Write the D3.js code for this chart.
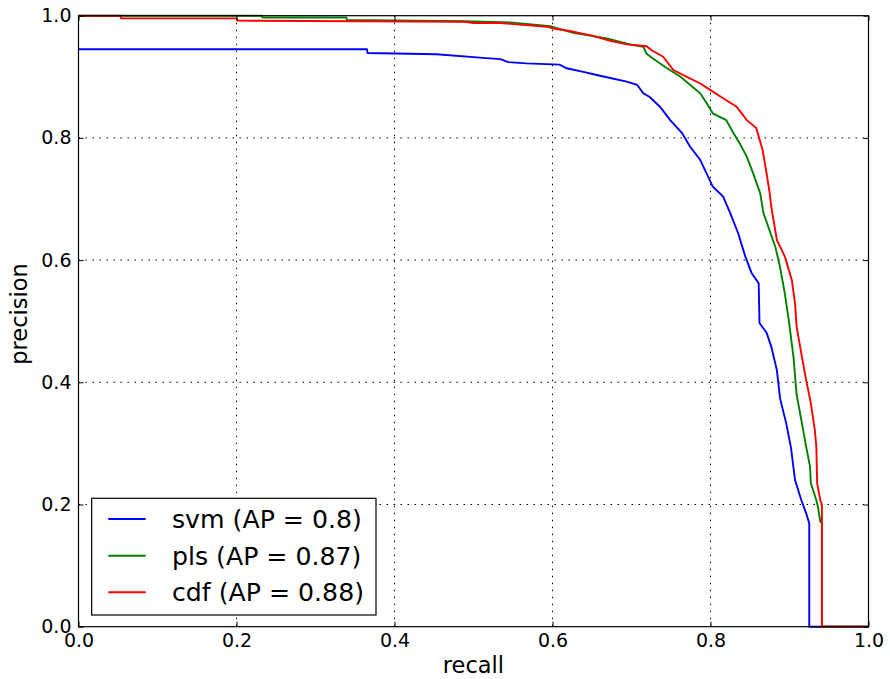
<!DOCTYPE html>
<html><head><meta charset="utf-8">
<script src="https://cdn.jsdelivr.net/npm/d3@7/dist/d3.min.js"></script>
<style>body{margin:0;background:#fff}svg{display:block}text{font-family:"DejaVu Sans",sans-serif;fill:#000}</style>
</head><body><svg id="c" width="890" height="679"></svg>
<script>
const xTicks = [0.0, 0.2, 0.4, 0.6, 0.8, 1.0];
const yTicks = [0.0, 0.2, 0.4, 0.6, 0.8, 1.0];
const seriesNames = ["svm (AP = 0.8)", "pls (AP = 0.87)", "cdf (AP = 0.88)"];
const seriesColors = ["#0000ff", "#008000", "#ff0000"];

const svmRecall = [0, 0.365, 0.366, 0.453, 0.512, 0.534, 0.544, 0.567, 0.609, 0.618, 0.639, 0.656, 0.673, 0.694, 0.707, 0.715, 0.723, 0.736, 0.749, 0.764, 0.774, 0.787, 0.795, 0.803, 0.816, 0.825, 0.835, 0.844, 0.852, 0.861, 0.862, 0.871, 0.877, 0.884, 0.888, 0.896, 0.902, 0.907, 0.915, 0.921, 0.925, 0.925, 1.0];
const svmPrecision = [0.945, 0.945, 0.939, 0.937, 0.931, 0.929, 0.924, 0.922, 0.920, 0.914, 0.908, 0.903, 0.898, 0.892, 0.887, 0.873, 0.867, 0.851, 0.829, 0.808, 0.786, 0.764, 0.742, 0.720, 0.704, 0.677, 0.644, 0.606, 0.579, 0.562, 0.497, 0.481, 0.458, 0.420, 0.374, 0.332, 0.292, 0.240, 0.207, 0.186, 0.169, 0, 0];

const plsRecall = [0, 0.232, 0.233, 0.339, 0.340, 0.490, 0.546, 0.597, 0.626, 0.669, 0.698, 0.715, 0.719, 0.727, 0.745, 0.762, 0.774, 0.787, 0.795, 0.803, 0.820, 0.829, 0.837, 0.846, 0.854, 0.863, 0.867, 0.882, 0.888, 0.894, 0.899, 0.905, 0.909, 0.915, 0.921, 0.926, 0.927, 0.934, 0.936, 0.939, 0.941, 0.941, 1.0];
const plsPrecision = [1.0, 1.0, 0.997, 0.997, 0.993, 0.991, 0.989, 0.983, 0.972, 0.963, 0.953, 0.949, 0.938, 0.930, 0.914, 0.900, 0.887, 0.873, 0.857, 0.840, 0.829, 0.808, 0.791, 0.769, 0.742, 0.709, 0.677, 0.622, 0.589, 0.546, 0.502, 0.442, 0.380, 0.338, 0.295, 0.262, 0.235, 0.207, 0.196, 0.172, 0.170, 0, 0];

const cdfRecall = [0, 0.053, 0.054, 0.200, 0.201, 0.489, 0.500, 0.534, 0.593, 0.601, 0.622, 0.651, 0.673, 0.694, 0.719, 0.726, 0.740, 0.753, 0.770, 0.787, 0.799, 0.816, 0.833, 0.846, 0.858, 0.866, 0.871, 0.875, 0.877, 0.884, 0.894, 0.903, 0.907, 0.909, 0.915, 0.921, 0.927, 0.932, 0.934, 0.935, 0.939, 0.941, 0.941, 1.0];
const cdfPrecision = [1.0, 1.0, 0.9957, 0.9957, 0.992, 0.990, 0.988, 0.988, 0.982, 0.979, 0.975, 0.967, 0.959, 0.953, 0.950, 0.943, 0.933, 0.911, 0.900, 0.889, 0.879, 0.865, 0.851, 0.829, 0.816, 0.780, 0.742, 0.709, 0.687, 0.633, 0.606, 0.567, 0.529, 0.491, 0.447, 0.404, 0.366, 0.322, 0.295, 0.235, 0.207, 0.200, 0, 0];

const recalls = [svmRecall, plsRecall, cdfRecall];
const precisions = [svmPrecision, plsPrecision, cdfPrecision];

const svg = d3.select("#c");
const L = 78.5, R = 868.5, T = 15.7, B = 626.7;
const x = d3.scaleLinear().domain([0, 1]).range([L, R]);
const y = d3.scaleLinear().domain([0, 1]).range([B, T]);
const FS = 19, FL = 22.5, FLEG = 25.2;

// grid
const g = svg.append("g");
g.selectAll(".gx").data(xTicks.slice(1, -1)).join("line")
  .attr("x1", d => x(d)).attr("x2", d => x(d)).attr("y1", T).attr("y2", B)
  .attr("stroke", "#000").attr("stroke-width", 1).attr("stroke-dasharray", "1.5,5.5");
g.selectAll(".gy").data(yTicks.slice(1, -1)).join("line")
  .attr("y1", d => y(d)).attr("y2", d => y(d)).attr("x1", L).attr("x2", R)
  .attr("stroke", "#000").attr("stroke-width", 1).attr("stroke-dasharray", "1.5,5.5");

// series
const line = d3.line().x(d => x(d[0])).y(d => y(d[1]));
recalls.forEach((rc, i) => {
  const pts = rc.map((r, j) => [r, precisions[i][j]]);
  svg.append("path").attr("d", line(pts)).attr("fill", "none")
    .attr("stroke", seriesColors[i]).attr("stroke-width", 1.9)
    .attr("stroke-linejoin", "miter");
});

// frame
svg.append("rect").attr("x", L).attr("y", T).attr("width", R - L).attr("height", B - T)
  .attr("fill", "none").attr("stroke", "#000").attr("stroke-width", 1.2);

// axes (inward ticks)
const axB = d3.axisBottom(x).tickValues(xTicks).tickFormat(d3.format(".1f")).tickSizeInner(-5).tickSizeOuter(0).tickPadding(6.5);
const axT = d3.axisTop(x).tickValues(xTicks).tickFormat("").tickSizeInner(-5).tickSizeOuter(0);
const axLft = d3.axisLeft(y).tickValues(yTicks).tickFormat(d3.format(".1f")).tickSizeInner(-5).tickSizeOuter(0).tickPadding(7);
const axRt = d3.axisRight(y).tickValues(yTicks).tickFormat("").tickSizeInner(-5).tickSizeOuter(0);
function styleAxis(sel) {
  sel.select(".domain").remove();
  sel.selectAll("line").attr("stroke", "#000").attr("stroke-width", 1);
  sel.selectAll("text").attr("font-size", FS).attr("font-family", "DejaVu Sans").attr("fill", "#000");
}
svg.append("g").attr("transform", `translate(0,${B})`).call(axB).call(styleAxis);
svg.append("g").attr("transform", `translate(0,${T})`).call(axT).call(styleAxis);
svg.append("g").attr("transform", `translate(${L},0)`).call(axLft).call(styleAxis);
svg.append("g").attr("transform", `translate(${R},0)`).call(axRt).call(styleAxis);

// axis labels
svg.append("text").attr("x", (L + R) / 2).attr("y", 673).attr("text-anchor", "middle")
  .attr("font-size", FL).text("recall");
svg.append("text").attr("transform", `translate(27,314) rotate(-90)`)
  .attr("text-anchor", "middle").attr("font-size", FL).text("precision");

// legend
const lg = svg.append("g");
lg.append("rect").attr("x", 91.7).attr("y", 498.3).attr("width", 284.3).attr("height", 116.7)
  .attr("fill", "#fff").attr("stroke", "#000").attr("stroke-width", 1.2);
const rows = [519, 555.7, 592.3];
seriesNames.forEach((n, i) => {
  lg.append("line").attr("x1", 108.3).attr("x2", 145.7).attr("y1", rows[i]).attr("y2", rows[i])
    .attr("stroke", seriesColors[i]).attr("stroke-width", 1.9);
  lg.append("text").attr("x", 172).attr("y", rows[i]).attr("dy", "0.36em")
    .attr("font-size", FLEG).text(n);
});
</script></body></html>
